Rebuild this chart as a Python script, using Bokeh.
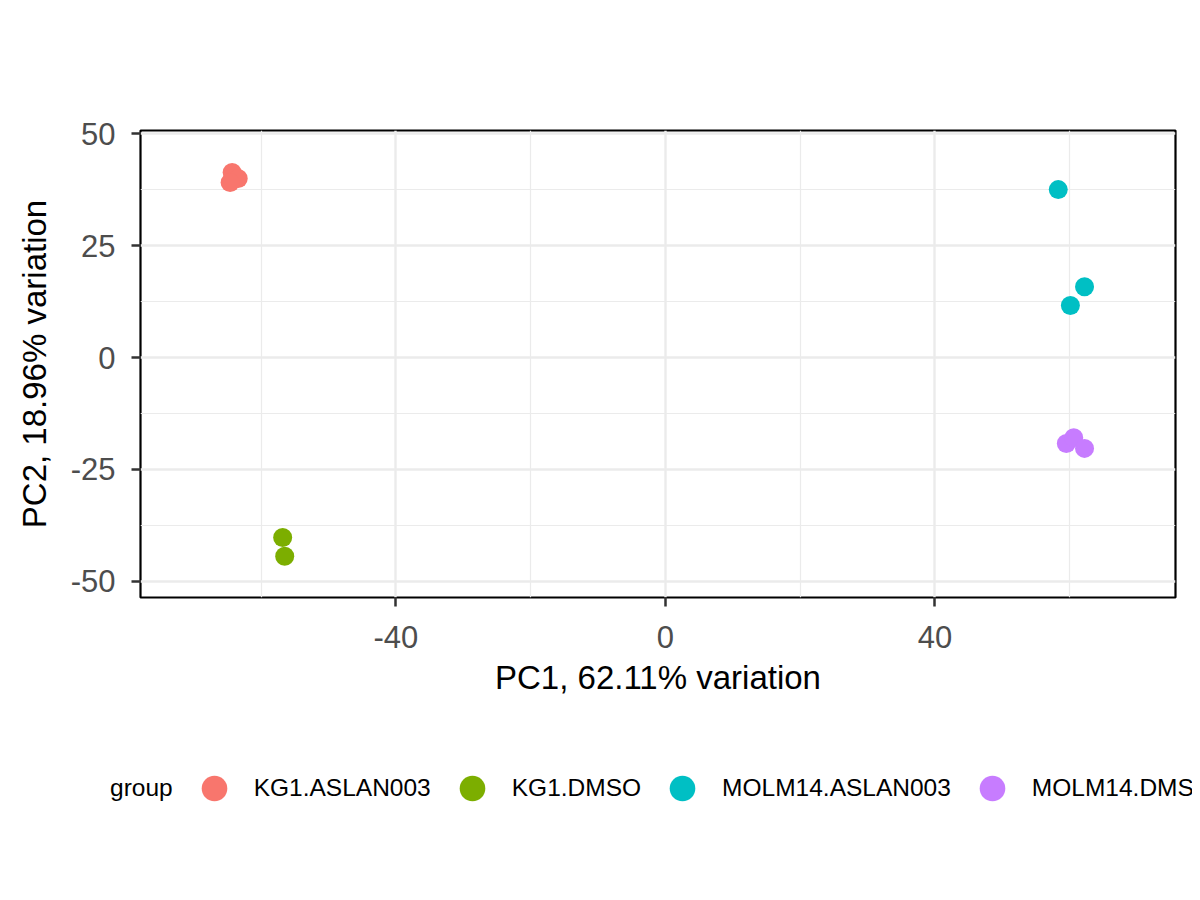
from bokeh.plotting import figure
from bokeh.models import FixedTicker, Legend, LegendItem, Range1d, CustomJSTickFormatter
from bokeh.layouts import column, row
from bokeh.embed import file_html
from bokeh.resources import INLINE

groups = ["KG1.ASLAN003", "KG1.DMSO", "MOLM14.ASLAN003", "MOLM14.DMSO"]
colors = ["#F8766D", "#7CAE00", "#00BFC4", "#C77CFF"]
legend_title = "group"
pc1 = {
    "KG1.ASLAN003": [-64.3, -63.4, -64.6],
    "KG1.DMSO": [-56.8, -56.5],
    "MOLM14.ASLAN003": [58.3, 62.2, 60.1],
    "MOLM14.DMSO": [59.5, 60.6, 62.2],
}
pc2 = {
    "KG1.ASLAN003": [41.3, 40.0, 39.1],
    "KG1.DMSO": [-40.2, -44.4],
    "MOLM14.ASLAN003": [37.5, 15.8, 11.6],
    "MOLM14.DMSO": [-19.2, -17.9, -20.3],
}
x_ticks = [-40, 0, 40]
x_minor = [-60, -20, 20, 60]
y_ticks = [-50, -25, 0, 25, 50]
y_minor = [-37.5, -12.5, 12.5, 37.5]

FONT = "Liberation Sans"
W = 1192
H1 = 720

p = figure(width=W, height=H1, output_backend="svg", toolbar_location=None,
           x_range=Range1d(-77.9, 75.7), y_range=Range1d(-53.6, 50.7),
           min_border_left=140, min_border_right=W - 1175, min_border_top=130,
           min_border_bottom=H1 - 597)
p.background_fill_color = "white"
p.border_fill_color = "white"
p.outline_line_color = "black"
p.outline_line_width = 2.2

fmt = CustomJSTickFormatter(code="return String(tick);")
p.xaxis.ticker = FixedTicker(ticks=x_ticks, minor_ticks=x_minor)
p.yaxis.ticker = FixedTicker(ticks=y_ticks, minor_ticks=y_minor)
for ax in (p.xaxis, p.yaxis):
    ax.formatter = fmt
    ax.axis_line_color = None
    ax.major_tick_line_color = "#333333"
    ax.major_tick_line_width = 2.5
    ax.major_tick_out = 9
    ax.major_tick_in = 0
    ax.minor_tick_line_color = None
    ax.major_label_text_font = FONT
    ax.major_label_text_font_size = "31px"
    ax.major_label_text_color = "#4D4D4D"
    ax.axis_label_text_font = FONT
    ax.axis_label_text_font_size = "33px"
    ax.axis_label_text_font_style = "normal"
    ax.axis_label_text_color = "black"
p.xaxis.major_label_standoff = 19
p.yaxis.major_label_standoff = 16
p.yaxis.major_label_text_align = "center"
p.xaxis.axis_label = "PC1, 62.11% variation"
p.yaxis.axis_label = "PC2, 18.96% variation"
p.xaxis.axis_label_standoff = 8
p.yaxis.axis_label_standoff = 15

for g in (p.xgrid, p.ygrid):
    g.grid_line_color = "#EBEBEB"
    g.grid_line_width = 2.4
    g.minor_grid_line_color = "#EBEBEB"
    g.minor_grid_line_width = 1.2

for g, c in zip(groups, colors):
    p.scatter(pc1[g], pc2[g], size=19, fill_color=c, line_color=None)

# legend panel below the plot (its own figure, no axes)
LH = 172
nan = float("nan")
lf = figure(width=W, height=LH, output_backend="svg", toolbar_location=None,
            x_axis_type=None, y_axis_type=None, min_border=0,
            x_range=Range1d(0, 1), y_range=Range1d(0, 1))
lf.outline_line_color = None
lf.grid.visible = False
title_r = lf.scatter(x=[nan], y=[nan], size=19, fill_alpha=0, line_alpha=0)
items = [LegendItem(label=legend_title, renderers=[title_r])]
for g, c in zip(groups, colors):
    r = lf.scatter(x=[nan], y=[nan], size=19, fill_color=c, line_color=None)
    items.append(LegendItem(label=g, renderers=[r]))

legend = Legend(items=items, orientation="horizontal", location=(38, LH - 100),
                glyph_width=64, glyph_height=64, label_standoff=8, spacing=9,
                padding=0, margin=0, border_line_color=None, background_fill_alpha=0,
                label_text_font=FONT, label_text_font_size="24.5px",
                label_text_baseline="middle", label_text_color="black")
lf.add_layout(legend, "center")

open("out.html", "w").write(file_html(column(p, row(lf), spacing=0), INLINE))
